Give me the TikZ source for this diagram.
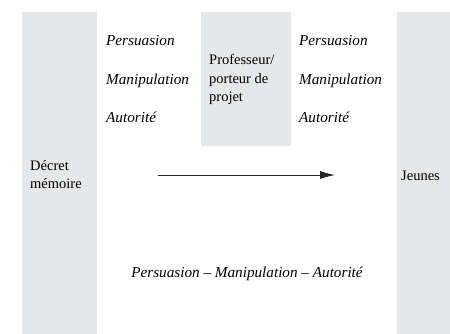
\documentclass[tikz,border=0pt]{standalone}
\usepackage{fontspec}
\setmainfont{Liberation Serif}
\usepackage{tikz}
\usetikzlibrary{positioning}
\usetikzlibrary{arrows.meta}
\definecolor{bargray}{HTML}{E6E7E8}
\newcommand{\figsize}{\fontsize{14.5}{18.5}\selectfont}
\newcommand{\itsize}{\fontsize{15.2}{18.5}\selectfont}
\tikzset{
  bar/.style={fill=bargray,draw=none},
  means/.style={font=\itsize\itshape,anchor=base west,inner sep=0pt},
  actor/.style={font=\figsize,align=left,anchor=base west,inner sep=0pt},
}

\begin{document}
\begin{tikzpicture}[x=1pt,y=-1pt]
  \useasboundingbox (0,0) rectangle (450,334);
  % grey columns
  \path[bar] (22,12) rectangle (97,334);
  \path[bar] (201,12) rectangle (291,146);
  \path[bar] (397,12) rectangle (450,334);
  % actors (base = last line)
  \node[actor] (decret) at (30,189) {Décret\\mémoire};
  \node[actor] (prof) at (209,102) {Professeur/\\porteur de\\projet};
  \node[actor] (jeunes) at (401,181) {Jeunes};
  % means, left and right of the teacher
  \node[means] (persL) at (106,46) {Persuasion};
  \node[means] (maniL) at (106,85) {Manipulation};
  \node[means] (autoL) at (106,123) {Autorité};
  \node[means] (persR) at (299,46) {Persuasion};
  \node[means] (maniR) at (299,85) {Manipulation};
  \node[means] (autoR) at (299,123) {Autorité};
  \node[means,anchor=base] (all) at (247,277) {Persuasion – Manipulation – Autorité};
  % arrow
  \coordinate (from) at (158,175);
  \coordinate (to) at (335,175);
  \draw[-{Latex[length=15pt,width=8pt]},thick,black!85] (from)--(to);
\end{tikzpicture}
\end{document}
